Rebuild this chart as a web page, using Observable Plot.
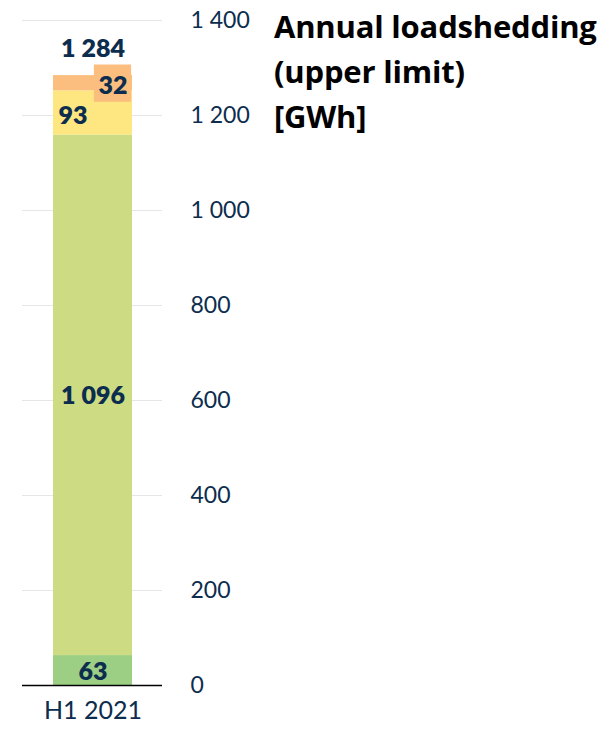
<!DOCTYPE html>
<html>
<head>
<meta charset="utf-8">
<script src="https://cdn.jsdelivr.net/npm/d3@7"></script>
<script src="https://cdn.jsdelivr.net/npm/@observablehq/plot@0.6"></script>
<style>
  html, body { margin: 0; padding: 0; background: #fff; }
  #wrap { position: relative; width: 614px; height: 729px; }
  #title { position: absolute; left: 274px; top: 4px; font-family: "Open Sans", Lato, sans-serif; font-weight: 700; font-size: 31px; line-height: 45px; color: #000; white-space: nowrap; letter-spacing: -0.2px; }
</style>
</head>
<body>
<div id="wrap">
  <div id="chart"></div>
  <div id="title">Annual loadshedding<br>(upper limit)<br>[GWh]</div>
</div>
<script>
const categories = ["H1 2021"];
const segmentKeys = ["s1", "s2", "s3", "s4"];
const segmentValues = [63, 1096, 93, 32];
const segmentColors = ["#9ccf83", "#cddc82", "#fee681", "#fbbe7e"];
const totalValue = 1284;
const yTicks = [0, 200, 400, 600, 800, 1000, 1200, 1400];

const fmt = d => d3.format(",")(d).replace(/,/g, " ");

const segments = segmentKeys.map((k, i) => ({cat: categories[0], key: k, value: segmentValues[i]}));
let acc = 0;
segments.forEach(s => { s.y1 = acc; acc += s.value; s.y2 = acc; s.mid = (s.y1 + s.y2) / 2; });
const totals = [{cat: categories[0], value: totalValue}];

const navy = "#0c2d4e";
const labelFont = {fontFamily: "Lato, 'Open Sans', sans-serif", fontWeight: 800, fontSize: 25, fill: navy};

const chart = Plot.plot({
  width: 614,
  height: 729,
  marginLeft: 22,
  marginRight: 452,
  marginTop: 20,
  marginBottom: 44,
  style: {fontFamily: "Lato, 'Open Sans', sans-serif", color: navy, background: "#fff"},
  x: {domain: categories, padding: 0.279, label: null},
  y: {domain: [0, 1400], label: null},
  color: {domain: segmentKeys, range: segmentColors},
  marks: [
    Plot.gridY(yTicks, {stroke: "#e6e6e6", strokeOpacity: 1, strokeWidth: 1}),
    Plot.barY(segments, {x: "cat", y1: "y1", y2: "y2", fill: "key"}),
    Plot.dot(segments.filter(s => s.key === "s4"), {x: "cat", y: "mid", symbol: "square", r: 21, fill: segmentColors[3], dx: 19.5}),
    Plot.ruleY([0], {stroke: "#000", strokeWidth: 1.5}),
    Plot.text(segments.filter(s => s.key === "s1" || s.key === "s2"), {x: "cat", y: "mid", text: d => fmt(d.value), dy: 1, ...labelFont}),
    Plot.text(segments.filter(s => s.key === "s3"), {x: "cat", y: "mid", text: d => fmt(d.value), dx: -20, dy: 3, ...labelFont}),
    Plot.text(segments.filter(s => s.key === "s4"), {x: "cat", y: "mid", text: d => fmt(d.value), dx: 20, dy: 3, ...labelFont}),
    Plot.text(totals, {x: "cat", y: "value", text: d => fmt(d.value), dy: -27, ...labelFont}),
    Plot.axisY(yTicks, {anchor: "right", tickSize: 0, tickPadding: 28, tickFormat: fmt, fontSize: 23, fill: navy}),
    Plot.axisX({tickSize: 0, tickPadding: 16, fontSize: 25, fill: navy})
  ]
});
document.getElementById("chart").appendChild(chart);
</script>
</body>
</html>
